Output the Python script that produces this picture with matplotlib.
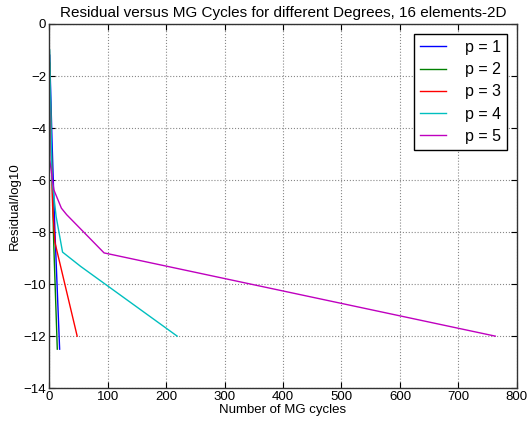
import matplotlib
matplotlib.use("Agg")
import matplotlib.pyplot as plt

# data (x = MG cycles, y = log10 residual)
p1_x = [1, 5, 10, 18]
p1_y = [-1.2, -4.5, -8.0, -12.5]
p2_x = [1, 4, 8, 14]
p2_y = [-1.5, -5.0, -8.5, -12.5]
p3_x = [0, 3, 6, 10, 48]
p3_y = [-0.5, -4.0, -7.0, -8.4, -12.0]
p4_x = [1, 5, 12, 23, 54, 219]
p4_y = [-1.0, -6.0, -7.4, -8.77, -9.32, -12.0]
p5_x = [0, 1, 8, 21, 30, 94, 763]
p5_y = [0.0, -5.2, -6.37, -7.08, -7.33, -8.8, -12.0]

series = [(p1_x, p1_y, 'b', 'p = 1'),
          (p2_x, p2_y, 'g', 'p = 2'),
          (p3_x, p3_y, 'r', 'p = 3'),
          (p4_x, p4_y, 'c', 'p = 4'),
          (p5_x, p5_y, 'm', 'p = 5')]

plt.rcParams['font.family'] = ['Liberation Sans', 'DejaVu Sans']
plt.rcParams['xtick.direction'] = 'in'
plt.rcParams['ytick.direction'] = 'in'

fig = plt.figure(figsize=(5.28, 4.21), dpi=100)
ax = fig.add_axes([0.093, 0.078, 0.886, 0.865])

for xs, ys, c, lab in series:
    ax.plot(xs, ys, color=c, linewidth=1.0, label=lab)

ax.set_xlim(0, 800)
ax.set_ylim(-14, 0)
ax.set_xticks(range(0, 801, 100))
ax.set_yticks(range(-14, 1, 2))
ax.tick_params(labelsize=9.5, top=True, right=True, length=4, pad=2)
ax.grid(True, linestyle=':', color='#888888', linewidth=0.8)
for s in ax.spines.values():
    s.set_color('#333333')
    s.set_linewidth(1.0)

ax.set_xlabel('Number of MG cycles', fontsize=9.5, labelpad=1)
ax.set_ylabel('Residual/log10', fontsize=9.5, labelpad=2)
ax.set_title('Residual versus MG Cycles for different Degrees, 16 elements-2D',
             fontsize=11, pad=5)

leg = ax.legend(loc='upper right', fontsize=11.5, fancybox=False, framealpha=1,
                edgecolor='black', handlelength=1.6, handletextpad=1.2,
                labelspacing=0.45, borderaxespad=0.6)
leg.get_frame().set_linewidth(1.0)

fig.savefig('out.png', dpi=100)
